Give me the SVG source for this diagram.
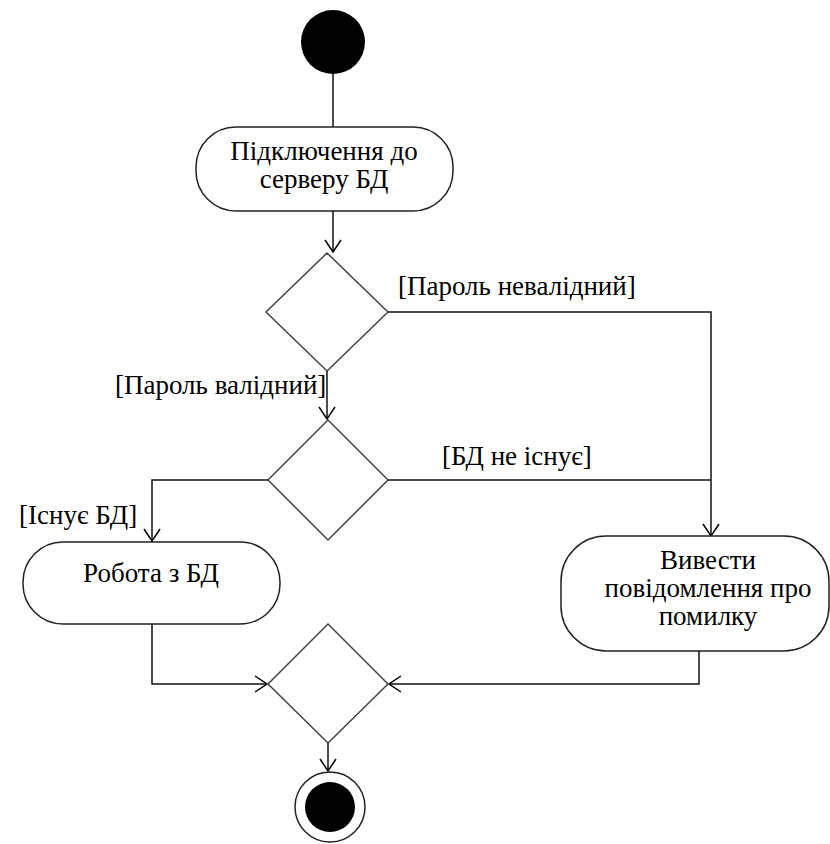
<svg xmlns="http://www.w3.org/2000/svg" width="830" height="844" viewBox="0 0 830 844">
<defs>
<marker id="arr" viewBox="0 0 14 18" refX="13" refY="9" markerWidth="14" markerHeight="18" markerUnits="userSpaceOnUse" orient="auto">
<path d="M1,1 L13,9 L1,17" fill="none" stroke="#000" stroke-width="1.5"/>
</marker>
</defs>
<style>
.n{fill:#fff;stroke:#222;stroke-width:1.5}
.d{fill:#fff;stroke:#444;stroke-width:1.5}
.c{fill:none;stroke:#111;stroke-width:1.5}
.t{font-family:'Liberation Serif','Times New Roman',serif;font-size:27px;fill:#000}
.m{text-anchor:middle}
</style>
<g id="connectors">
<path class="c" d="M333,74 V127"/>
<path class="c" d="M333,211 V252" marker-end="url(#arr)"/>
<path class="c" d="M388,312 H711 V536" marker-end="url(#arr)"/>
<path class="c" d="M327,371 V419" marker-end="url(#arr)"/>
<path class="c" d="M268,480 H152 V541" marker-end="url(#arr)"/>
<path class="c" d="M388,480 H711"/>
<path class="c" d="M152,624 V684 H267" marker-end="url(#arr)"/>
<path class="c" d="M699,651 V684 H389" marker-end="url(#arr)"/>
<path class="c" d="M328,743 V771" marker-end="url(#arr)"/>
<text class="t" x="398" y="295">[Пароль невалідний]</text>
<text class="t" x="115" y="394">[Пароль валідний]</text>
<text class="t" x="442" y="465">[БД не існує]</text>
<text class="t" x="19" y="524">[Існує БД]</text>
</g>
<g id="start"><circle cx="333" cy="42" r="32" fill="#000"/></g>
<g id="connect">
<rect class="n" x="196" y="127" width="257" height="84" rx="40"/>
<text class="t m" x="324" y="160">Підключення до</text>
<text class="t m" x="324" y="188">серверу БД</text>
</g>
<g id="decision1"><polygon class="d" points="327,253 388,312 327,371 266,312"/></g>
<g id="decision2"><polygon class="d" points="328,420 388,480 328,540 268,480"/></g>
<g id="work">
<rect class="n" x="23" y="542" width="257" height="82" rx="40"/>
<text class="t m" x="151" y="582">Робота з БД</text>
</g>
<g id="error">
<rect class="n" x="561" y="536" width="268" height="115" rx="45"/>
<text class="t m" x="708" y="569">Вивести</text>
<text class="t m" x="708" y="597">повідомлення про</text>
<text class="t m" x="708" y="625">помилку</text>
</g>
<g id="merge"><polygon class="d" points="328,624 388,684 328,743 268,684"/></g>
<g id="end">
<circle cx="330" cy="807" r="35" fill="#fff" stroke="#222" stroke-width="1.5"/>
<circle cx="330" cy="807" r="25" fill="#000"/>
</g>
</svg>
